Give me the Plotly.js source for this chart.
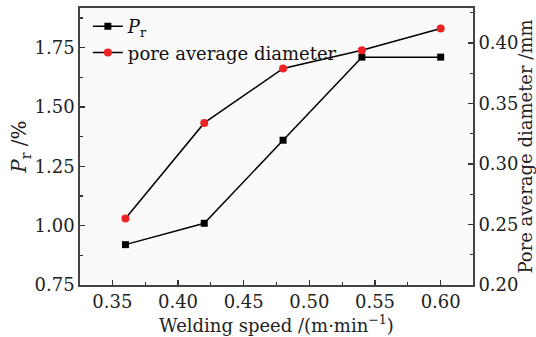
<!DOCTYPE html>
<html><head><meta charset="utf-8">
<script src="https://cdn.plot.ly/plotly-3.0.1.min.js"></script>
<style>html,body{margin:0;padding:0;background:#fff;}#c{width:536px;height:337px;}</style>
</head><body><div id="c"></div>
<script>
const speeds = [0.36, 0.42, 0.48, 0.54, 0.60];
const prValues = [0.92, 1.01, 1.36, 1.71, 1.71];
const poreDiameter = [0.255, 0.334, 0.379, 0.394, 0.412];
const xTicks = [0.35, 0.40, 0.45, 0.50, 0.55, 0.60];
const yLeftTicks = [0.75, 1.00, 1.25, 1.50, 1.75];
const yRightTicks = [0.20, 0.25, 0.30, 0.35, 0.40];

const F = "DejaVu Serif, Liberation Serif, serif";
const traces = [
  {x: speeds, y: prValues, name: '<i>P</i><sub>r</sub>', type: 'scatter', mode: 'lines+markers',
   line: {color: '#000', width: 1.5}, marker: {symbol: 'square', size: 7, color: '#000'}},
  {x: speeds, y: poreDiameter, name: 'pore average diameter', yaxis: 'y2', type: 'scatter', mode: 'lines+markers',
   line: {color: '#000', width: 1.5}, marker: {symbol: 'circle', size: 8, color: '#ee2222'}}
];
const axisCommon = {showline: true, linecolor: '#444', linewidth: 1.8, ticks: 'inside', ticklen: 5, tickwidth: 1.2,
  tickcolor: '#333', showgrid: false, zeroline: false, tickfont: {family: F, size: 18, color: '#222'}};
const layout = {
  width: 536, height: 337,
  margin: {l: 80, r: 63, t: 8, b: 52},
  paper_bgcolor: '#fff', plot_bgcolor: '#fafafa',
  showlegend: true,
  legend: {x: 0.02, y: 1, xanchor: 'left', yanchor: 'top', bgcolor: 'rgba(255,255,255,0)',
    font: {family: F, size: 18, color: '#111'}, itemwidth: 30, tracegroupgap: 0},
  xaxis: Object.assign({}, axisCommon, {range: [0.3254, 0.6246], tickvals: xTicks, ticktext: xTicks.map(v => v.toFixed(2)),
    mirror: true, minor: {dtick: 0.025, tick0: 0.325, ticks: 'inside', ticklen: 3, tickcolor: '#333'},
    title: {text: 'Welding speed /(m·min<sup>−1</sup>)', font: {family: F, size: 18, color: '#222'}, standoff: 0}}),
  yaxis: Object.assign({}, axisCommon, {range: [0.75, 1.917], tickvals: yLeftTicks, ticktext: yLeftTicks.map(v => v.toFixed(2)),
    minor: {dtick: 0.125, tick0: 0.75, ticks: 'inside', ticklen: 3, tickcolor: '#333'},
    title: {text: '<i>P</i><sub>r</sub> /%', font: {family: F, size: 20, color: '#222'}, standoff: 2}}),
  yaxis2: Object.assign({}, axisCommon, {overlaying: 'y', side: 'right', range: [0.2, 0.429], tickvals: yRightTicks,
    ticktext: yRightTicks.map(v => v.toFixed(2)),
    minor: {dtick: 0.025, tick0: 0.2, ticks: 'inside', ticklen: 3, tickcolor: '#333'},
    title: {text: 'Pore average diameter /mm', font: {family: F, size: 18, color: '#222'}, standoff: 2}})
};
Plotly.newPlot('c', traces, layout, {displayModeBar: false, staticPlot: true});
</script></body></html>
